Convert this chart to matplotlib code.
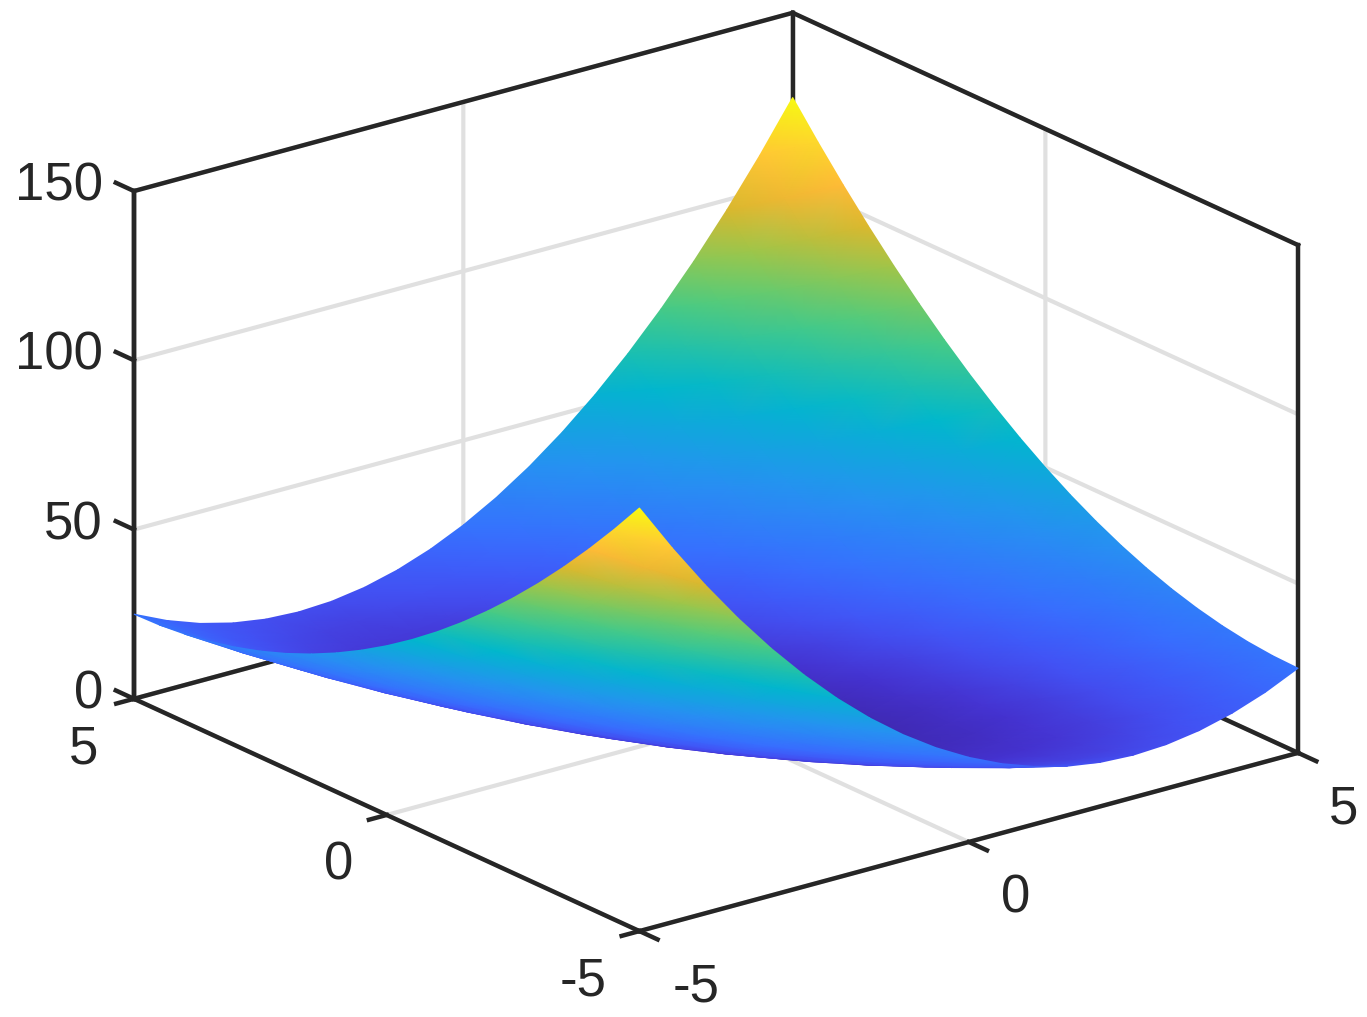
import numpy as np
import matplotlib
matplotlib.use("Agg")
import matplotlib.pyplot as plt
from matplotlib.colors import LinearSegmentedColormap
from mpl_toolkits.mplot3d import proj3d

x_vals = [-5.0, -4.5, -4.0, -3.5, -3.0, -2.5, -2.0, -1.5, -1.0, -0.5, 0.0, 0.5, 1.0, 1.5, 2.0, 2.5, 3.0, 3.5, 4.0, 4.5, 5.0]
y_vals = [-5.0, -4.5, -4.0, -3.5, -3.0, -2.5, -2.0, -1.5, -1.0, -0.5, 0.0, 0.5, 1.0, 1.5, 2.0, 2.5, 3.0, 3.5, 4.0, 4.5, 5.0]

# one row per y value
z_vals = [
    [125, 110.5, 97, 84.5, 73, 62.5, 53, 44.5, 37, 30.5, 25, 20.5, 17, 14.5, 13, 12.5, 13, 14.5, 17, 20.5, 25],
    [115.25, 101.25, 88.25, 76.25, 65.25, 55.25, 46.25, 38.25, 31.25, 25.25, 20.25, 16.25, 13.25, 11.25, 10.25, 10.25, 11.25, 13.25, 16.25, 20.25, 25.25],
    [106, 92.5, 80, 68.5, 58, 48.5, 40, 32.5, 26, 20.5, 16, 12.5, 10, 8.5, 8, 8.5, 10, 12.5, 16, 20.5, 26],
    [97.25, 84.25, 72.25, 61.25, 51.25, 42.25, 34.25, 27.25, 21.25, 16.25, 12.25, 9.25, 7.25, 6.25, 6.25, 7.25, 9.25, 12.25, 16.25, 21.25, 27.25],
    [89, 76.5, 65, 54.5, 45, 36.5, 29, 22.5, 17, 12.5, 9, 6.5, 5, 4.5, 5, 6.5, 9, 12.5, 17, 22.5, 29],
    [81.25, 69.25, 58.25, 48.25, 39.25, 31.25, 24.25, 18.25, 13.25, 9.25, 6.25, 4.25, 3.25, 3.25, 4.25, 6.25, 9.25, 13.25, 18.25, 24.25, 31.25],
    [74, 62.5, 52, 42.5, 34, 26.5, 20, 14.5, 10, 6.5, 4, 2.5, 2, 2.5, 4, 6.5, 10, 14.5, 20, 26.5, 34],
    [67.25, 56.25, 46.25, 37.25, 29.25, 22.25, 16.25, 11.25, 7.25, 4.25, 2.25, 1.25, 1.25, 2.25, 4.25, 7.25, 11.25, 16.25, 22.25, 29.25, 37.25],
    [61, 50.5, 41, 32.5, 25, 18.5, 13, 8.5, 5, 2.5, 1, 0.5, 1, 2.5, 5, 8.5, 13, 18.5, 25, 32.5, 41],
    [55.25, 45.25, 36.25, 28.25, 21.25, 15.25, 10.25, 6.25, 3.25, 1.25, 0.25, 0.25, 1.25, 3.25, 6.25, 10.25, 15.25, 21.25, 28.25, 36.25, 45.25],
    [50, 40.5, 32, 24.5, 18, 12.5, 8, 4.5, 2, 0.5, 0, 0.5, 2, 4.5, 8, 12.5, 18, 24.5, 32, 40.5, 50],
    [45.25, 36.25, 28.25, 21.25, 15.25, 10.25, 6.25, 3.25, 1.25, 0.25, 0.25, 1.25, 3.25, 6.25, 10.25, 15.25, 21.25, 28.25, 36.25, 45.25, 55.25],
    [41, 32.5, 25, 18.5, 13, 8.5, 5, 2.5, 1, 0.5, 1, 2.5, 5, 8.5, 13, 18.5, 25, 32.5, 41, 50.5, 61],
    [37.25, 29.25, 22.25, 16.25, 11.25, 7.25, 4.25, 2.25, 1.25, 1.25, 2.25, 4.25, 7.25, 11.25, 16.25, 22.25, 29.25, 37.25, 46.25, 56.25, 67.25],
    [34, 26.5, 20, 14.5, 10, 6.5, 4, 2.5, 2, 2.5, 4, 6.5, 10, 14.5, 20, 26.5, 34, 42.5, 52, 62.5, 74],
    [31.25, 24.25, 18.25, 13.25, 9.25, 6.25, 4.25, 3.25, 3.25, 4.25, 6.25, 9.25, 13.25, 18.25, 24.25, 31.25, 39.25, 48.25, 58.25, 69.25, 81.25],
    [29, 22.5, 17, 12.5, 9, 6.5, 5, 4.5, 5, 6.5, 9, 12.5, 17, 22.5, 29, 36.5, 45, 54.5, 65, 76.5, 89],
    [27.25, 21.25, 16.25, 12.25, 9.25, 7.25, 6.25, 6.25, 7.25, 9.25, 12.25, 16.25, 21.25, 27.25, 34.25, 42.25, 51.25, 61.25, 72.25, 84.25, 97.25],
    [26, 20.5, 16, 12.5, 10, 8.5, 8, 8.5, 10, 12.5, 16, 20.5, 26, 32.5, 40, 48.5, 58, 68.5, 80, 92.5, 106],
    [25.25, 20.25, 16.25, 13.25, 11.25, 10.25, 10.25, 11.25, 13.25, 16.25, 20.25, 25.25, 31.25, 38.25, 46.25, 55.25, 65.25, 76.25, 88.25, 101.25, 115.25],
    [25, 20.5, 17, 14.5, 13, 12.5, 13, 14.5, 17, 20.5, 25, 30.5, 37, 44.5, 53, 62.5, 73, 84.5, 97, 110.5, 125],
]

x_ticks = [-5, 0, 5]
y_ticks = [-5, 0, 5]
z_ticks = [0, 50, 100, 150]
x_labels = ["-5", "0", "5"]
y_labels = ["-5", "0", "5"]
z_labels = ["0", "50", "100", "150"]

dark = "#262626"
grid_col = "#e0e0e0"
lw = 3.2

parula = LinearSegmentedColormap.from_list("parula_like", [
    (0.00, (0.24, 0.15, 0.66)),
    (0.05, (0.27, 0.20, 0.82)),
    (0.11, (0.26, 0.32, 0.96)),
    (0.18, (0.22, 0.43, 1.00)),
    (0.30, (0.15, 0.57, 0.95)),
    (0.45, (0.00, 0.72, 0.80)),
    (0.60, (0.30, 0.80, 0.50)),
    (0.70, (0.60, 0.78, 0.30)),
    (0.78, (0.86, 0.72, 0.18)),
    (0.84, (1.00, 0.72, 0.22)),
    (0.90, (1.00, 0.80, 0.20)),
    (1.00, (0.97, 0.98, 0.07)),
])

plt.rcParams["font.family"] = ["Liberation Sans", "DejaVu Sans"]

fig = plt.figure(figsize=(13.67, 10.17), dpi=100)
ax = fig.add_axes([193.8 / 1367, 22.8 / 1017, 1017 / 1367, 1.0], projection="3d", computed_zorder=False)
ax.set_proj_type("ortho")
ax.view_init(elev=20.65, azim=-127.5)
ax.set_box_aspect((10, 10, 6.535), zoom=1.2347)

x0, x1 = x_vals[0], x_vals[-1]
y0, y1 = y_vals[0], y_vals[-1]
z0, z1 = z_ticks[0], z_ticks[-1]
ax.set_xlim(x0, x1, view_margin=0)
ax.set_ylim(y0, y1, view_margin=0)
ax.set_zlim(z0, z1, view_margin=0)
ax.set_xticks(x_ticks, [])
ax.set_yticks(y_ticks, [])
ax.set_zticks(z_ticks, [])

for axis in (ax.xaxis, ax.yaxis, ax.zaxis):
    axis.set_pane_color((1, 1, 1, 1))
    axis.pane.set_edgecolor("none")
    axis.line.set_color(dark)
    axis.line.set_linewidth(lw)
    axis._axinfo["grid"].update(color=grid_col, linewidth=3.0)
    axis._axinfo["tick"].update(inward_factor=0, outward_factor=0)

# box frame behind the surface
frame = dict(color=dark, lw=lw, zorder=1, solid_capstyle="projecting", clip_on=False)
ax.plot([x0, x1], [y1, y1], [z0, z0], **frame)
ax.plot([x1, x1], [y0, y1], [z0, z0], **frame)
ax.plot([x0, x1], [y1, y1], [z1, z1], **frame)
ax.plot([x1, x1], [y0, y1], [z1, z1], **frame)
ax.plot([x0, x0], [y1, y1], [z0, z1], **frame)
ax.plot([x1, x1], [y1, y1], [z0, z1], **frame)
ax.plot([x1, x1], [y0, y0], [z0, z1], **frame)

# outward tick marks
tick_y = 0.36
tick_x = 0.27
for t in x_ticks:
    ax.plot([t, t], [y0, y0 - tick_y], [z0, z0], color=dark, lw=lw, zorder=1, clip_on=False)
for t in y_ticks:
    ax.plot([x0, x0 - tick_x], [t, t], [z0, z0], color=dark, lw=lw, zorder=1, clip_on=False)
for t in z_ticks:
    ax.plot([x0, x0], [y1, y1 + tick_y], [t, t], color=dark, lw=lw, zorder=1, clip_on=False)

fig.canvas.draw()
M = ax.get_proj()


def to_pixels(xs, ys, zs):
    tx, ty, tz = proj3d.proj_transform(np.asarray(xs, float), np.asarray(ys, float), np.asarray(zs, float), M)
    return ax.transData.transform(np.column_stack([tx, ty])), tz


# interpolated shading like the original: project the grid and let gouraud do the colours
X, Y = np.meshgrid(x_vals, y_vals)
Z = np.array(z_vals)
pix, depth = to_pixels(X.ravel(), Y.ravel(), Z.ravel())

n_y, n_x = Z.shape
tris = []
for j in range(n_y - 1):
    for i in range(n_x - 1):
        a = j * n_x + i
        b = a + 1
        c = a + n_x
        d = c + 1
        tris.append([a, b, c])
        tris.append([d, c, b])
tris = np.array(tris)
# back to front
tris = tris[np.argsort(-depth[tris].mean(axis=1))]

ax2 = fig.add_axes([0, 0, 1, 1])
ax2.set_xlim(0, 1367)
ax2.set_ylim(0, 1017)
ax2.axis("off")
ax2.tripcolor(pix[:, 0], pix[:, 1], tris, Z.ravel(), shading="gouraud", cmap=parula, vmin=0, vmax=125)

# tick labels, offset in pixels from the projected tick positions
text_kw = dict(textcoords="offset pixels", fontsize=38, color=dark, va="center_baseline", annotation_clip=False)
x_pix, _ = to_pixels(x_ticks, [y0] * 3, [z0] * 3)
y_pix, _ = to_pixels([x0] * 3, y_ticks, [z0] * 3)
z_pix, _ = to_pixels([x0] * 4, [y1] * 4, z_ticks)
x_dx = [57, 47, 45]
y_dx = [-56, -48, -50]
for lab, p, dx in zip(x_labels, x_pix, x_dx):
    ax2.annotate(lab, xy=p, xytext=(dx, -51), ha="center", **text_kw)
for lab, p, dx in zip(y_labels, y_pix, y_dx):
    ax2.annotate(lab, xy=p, xytext=(dx, -45), ha="center", **text_kw)
for lab, p in zip(z_labels, z_pix):
    ax2.annotate(lab, xy=p, xytext=(-31, 10), ha="right", **text_kw)

fig.savefig("out.png", dpi=100)
